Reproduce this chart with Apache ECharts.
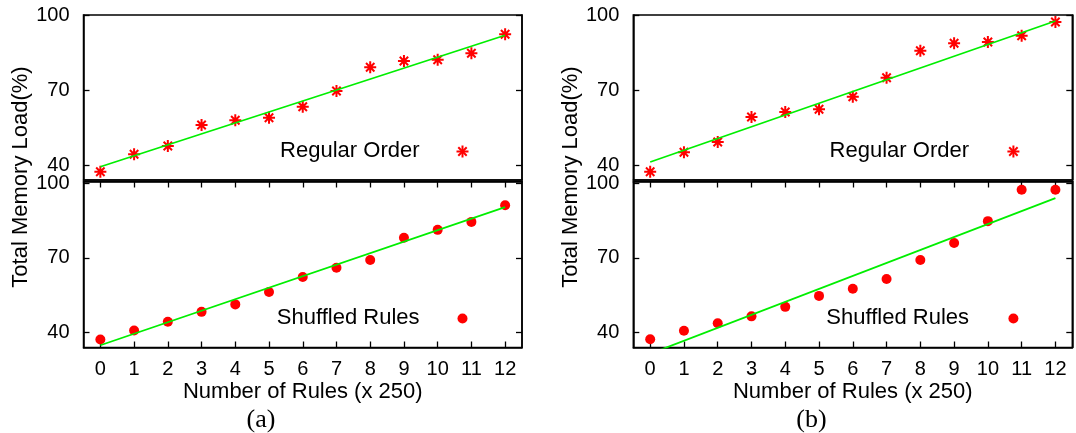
<!DOCTYPE html>
<html>
<head>
<meta charset="utf-8">
<title>Total Memory Load vs Number of Rules</title>
<script src="https://cdn.jsdelivr.net/npm/echarts@6/dist/echarts.min.js"></script>
<style>
  html, body { margin: 0; padding: 0; background: #fff; }
  #chart { width: 1076px; height: 433px; }
</style>
</head>
<body>
<div id="chart"></div>
<script>
// Number of rules, in units of 250
const ruleSteps = [0, 1, 2, 3, 4, 5, 6, 7, 8, 9, 10, 11, 12];
const xTicks = [0, 1, 2, 3, 4, 5, 6, 7, 8, 9, 10, 11, 12];
const yTicks = [40, 70, 100];

// (a) total memory load, %
const regularA  = [37.3, 44.3, 47.6, 56.0, 57.9, 58.9, 63.3, 69.6, 79.1, 81.6, 82.1, 84.7, 92.3];
const shuffledA = [37.2, 40.8, 44.3, 48.3, 51.3, 56.3, 62.3, 66.0, 69.1, 78.0, 81.2, 84.4, 91.1];
// (b) total memory load, %
const regularB  = [37.3, 45.1, 49.2, 59.2, 61.2, 62.3, 67.3, 74.9, 85.7, 88.7, 89.2, 91.7, 97.2];
const shuffledB = [37.3, 40.7, 43.7, 46.5, 50.3, 54.7, 57.6, 61.5, 69.1, 75.9, 84.7, 97.3, 97.3];

// linear fits: [x, y] end points
const fitRegularA  = [[0, 39.3], [12, 91.9]];
const fitShuffledA = [[0, 34.9], [12, 90.3]];
const fitRegularB  = [[0, 41.2], [12, 97.6]];
const fitShuffledB = [[0, 31.5], [12, 93.9]];

const legendRegular = 'Regular Order';
const legendShuffled = 'Shuffled Rules';
const yTitle = 'Total Memory Load(%)';
const xTitle = 'Number of Rules (x 250)';
const panelCaptions = ['(a)', '(b)'];

const FONT = '"Liberation Sans", Arial, Helvetica, sans-serif';
const RED = '#ff0000';
const GREEN = '#00ee00';
const STAR = 'path://M0,5L10,5M5,0L5,10M1.5,1.5L8.5,8.5M8.5,1.5L1.5,8.5';

// plot boxes: [left, top, width, height]
const boxes = [
  [83.5, 15, 438.5, 165],    // (a) regular
  [83.5, 181.5, 438.5, 166], // (a) shuffled
  [633.3, 15, 439, 165],     // (b) regular
  [633.3, 181.5, 439, 166]   // (b) shuffled
];
const yRanges = [[34, 100], [34, 100.6], [34, 100], [34, 100.6]];
const isBottom = [false, true, false, true];

const grid = boxes.map(b => ({
  left: b[0], top: b[1], width: b[2], height: b[3],
  show: true, borderColor: '#000', borderWidth: 1.5, backgroundColor: 'transparent'
}));

const frameLine = { show: true, onZero: false, lineStyle: { color: '#000', width: 1.5 } };
const tickStyle = { color: '#000', width: 1.3 };
const TICK = 6;
const xAxis = [];
const yAxis = [];

boxes.forEach((b, i) => {
  xAxis.push({
    type: 'value', gridIndex: i, min: -0.5, max: 12.5, position: 'bottom',
    splitLine: { show: false },
    axisLine: frameLine,
    axisTick: { show: isBottom[i], inside: true, length: TICK, lineStyle: tickStyle, customValues: xTicks },
    axisLabel: {
      show: isBottom[i], customValues: xTicks, margin: 12,
      color: '#000', fontFamily: FONT, fontSize: 20
    },
    name: isBottom[i] ? xTitle : '',
    nameLocation: 'middle', nameGap: 33,
    nameTextStyle: { color: '#000', fontFamily: FONT, fontSize: 22 }
  });
  yAxis.push({
    type: 'value', gridIndex: i, min: yRanges[i][0], max: yRanges[i][1], position: 'left',
    splitLine: { show: false },
    axisLine: frameLine,
    axisTick: { show: true, inside: true, length: TICK, lineStyle: tickStyle, customValues: yTicks },
    axisLabel: { customValues: yTicks, margin: 14, color: '#000', fontFamily: FONT, fontSize: 20 }
  });
});
// mirrored ticks: right side of every box, top side of the lower boxes
boxes.forEach((b, i) => {
  yAxis.push({
    type: 'value', gridIndex: i, min: yRanges[i][0], max: yRanges[i][1], position: 'right',
    splitLine: { show: false }, axisLine: frameLine,
    axisTick: { show: true, inside: true, length: TICK, lineStyle: tickStyle, customValues: yTicks },
    axisLabel: { show: false }
  });
});
[1, 3].forEach(i => {
  xAxis.push({
    type: 'value', gridIndex: i, min: -0.5, max: 12.5, position: 'top',
    splitLine: { show: false }, axisLine: frameLine,
    axisTick: { show: true, inside: true, length: TICK, lineStyle: tickStyle, customValues: xTicks },
    axisLabel: { show: false }
  });
});

function points(values) {
  return ruleSteps.map((x, k) => [x, values[k]]);
}

const panels = [
  { values: regularA, fit: fitRegularA, star: true },
  { values: shuffledA, fit: fitShuffledA, star: false },
  { values: regularB, fit: fitRegularB, star: true },
  { values: shuffledB, fit: fitShuffledB, star: false }
];

const series = [];
panels.forEach((p, i) => {
  series.push({
    type: 'scatter', xAxisIndex: i, yAxisIndex: i,
    name: p.star ? legendRegular : legendShuffled,
    data: points(p.values),
    symbol: p.star ? STAR : 'circle',
    symbolSize: p.star ? 12 : 10,
    itemStyle: p.star
      ? { color: RED, borderColor: RED, borderWidth: 2, opacity: 1 }
      : { color: RED, opacity: 1 },
    silent: true, z: 2
  });
  series.push({
    type: 'line', xAxisIndex: i, yAxisIndex: i,
    data: p.fit, symbol: 'none', clip: true,
    lineStyle: { color: GREEN, width: 1.8 },
    silent: true, z: 3
  });
});

// key entries: text followed by the point sample
function keyStar(cx, cy) {
  const r = 6, d = 4.2;
  const st = { stroke: RED, lineWidth: 2 };
  return {
    type: 'group', x: cx, y: cy, silent: true,
    children: [
      { type: 'line', shape: { x1: -r, y1: 0, x2: r, y2: 0 }, style: st },
      { type: 'line', shape: { x1: 0, y1: -r, x2: 0, y2: r }, style: st },
      { type: 'line', shape: { x1: -d, y1: -d, x2: d, y2: d }, style: st },
      { type: 'line', shape: { x1: -d, y1: d, x2: d, y2: -d }, style: st }
    ]
  };
}
function keyText(txt, right, cy) {
  return {
    type: 'text', x: right, y: cy, silent: true,
    style: { text: txt, font: '22px ' + FONT, fill: '#000', align: 'right', verticalAlign: 'middle' }
  };
}

const graphic = [
  keyText(legendRegular, 419.5, 151), keyStar(462.5, 151.5),
  keyText(legendShuffled, 419.5, 318), { type: 'circle', silent: true, shape: { cx: 462.5, cy: 318.5, r: 5 }, style: { fill: RED } },
  keyText(legendRegular, 969, 151), keyStar(1013.4, 151.5),
  keyText(legendShuffled, 969, 318), { type: 'circle', silent: true, shape: { cx: 1013.4, cy: 318.5, r: 5 }, style: { fill: RED } },
  {
    type: 'text', x: 21, y: 177, rotation: Math.PI / 2, silent: true,
    style: { text: yTitle, font: '22px ' + FONT, fill: '#000', align: 'center', verticalAlign: 'middle' }
  },
  {
    type: 'text', x: 571, y: 177, rotation: Math.PI / 2, silent: true,
    style: { text: yTitle, font: '22px ' + FONT, fill: '#000', align: 'center', verticalAlign: 'middle' }
  },
  {
    type: 'text', x: 261, y: 420, silent: true,
    style: { text: panelCaptions[0], font: '26px "Liberation Serif", "DejaVu Serif", serif', fill: '#000', align: 'center', verticalAlign: 'middle' }
  },
  {
    type: 'text', x: 811.5, y: 420, silent: true,
    style: { text: panelCaptions[1], font: '26px "Liberation Serif", "DejaVu Serif", serif', fill: '#000', align: 'center', verticalAlign: 'middle' }
  }
];

const chart = echarts.init(document.getElementById('chart'), null, { renderer: 'canvas' });
chart.setOption({
  animation: false,
  backgroundColor: '#fff',
  grid, xAxis, yAxis, series, graphic
});
</script>
</body>
</html>
